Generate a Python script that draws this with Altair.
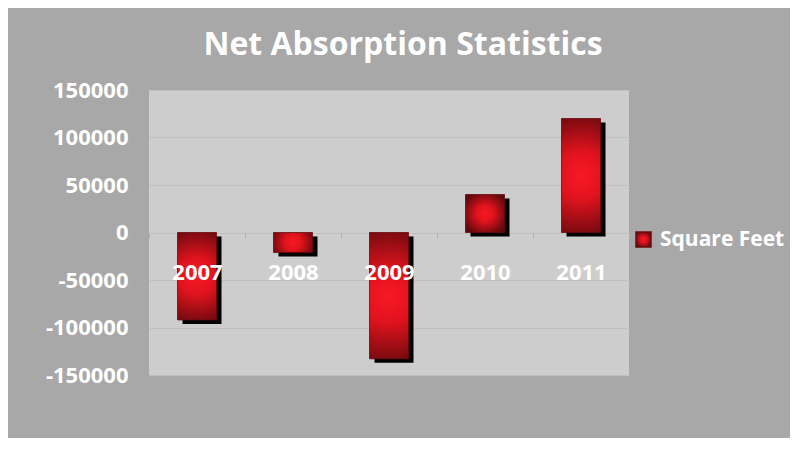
import altair as alt
import pandas as pd

years = ["2007", "2008", "2009", "2010", "2011"]
values = [-92000, -21000, -133000, 40000, 120000]
series = ["Square Feet"] * 5
y_ticks = [-150000, -100000, -50000, 0, 50000, 100000, 150000]

df = pd.DataFrame({"year": years, "value": values, "series": series})

FONT = "Open Sans"
bar_grad = {
    "gradient": "radial",
    "x1": 0.5, "y1": 0.5, "r1": 0.0,
    "x2": 0.5, "y2": 0.5, "r2": 0.6,
    "stops": [
        {"offset": 0.0, "color": "#f81824"},
        {"offset": 0.35, "color": "#e0131d"},
        {"offset": 1.0, "color": "#5c080c"},
    ],
}

x_enc = alt.X(
    "year:N",
    sort=years,
    scale=alt.Scale(paddingInner=0, paddingOuter=0),
    axis=alt.Axis(
        title=None, orient="bottom", offset=-142, domain=False,
        ticks=True, tickBand="extent", tickSize=5, tickColor="#b3b3b3",
        labelAngle=0, labelColor="white", labelFont=FONT, labelFontSize=22,
        labelFontWeight="bold", labelPadding=24, zindex=1,
    ),
)
y_enc = alt.Y(
    "value:Q",
    scale=alt.Scale(domain=[-150000, 150000], nice=False),
    axis=alt.Axis(
        title=None, values=y_ticks, labelExpr="'' + datum.value",
        domain=False, ticks=False,
        labelColor="white", labelFont=FONT, labelFontSize=22,
        labelFontWeight="bold", labelPadding=21,
        grid=True, gridColor="#c0c0c0", gridWidth=1,
    ),
)

shadow = alt.Chart(df).mark_bar(
    size=39, color="black", xOffset=5, yOffset=4
).encode(x=x_enc, y=y_enc)

bars = alt.Chart(df).mark_bar(
    size=39, fill=bar_grad, strokeWidth=0.8
).encode(
    x=x_enc,
    y=y_enc,
    stroke=alt.Stroke(
        "series:N",
        scale=alt.Scale(range=["#6a0a0f"]),
        legend=alt.Legend(
            title=None, orient="none", legendX=484, legendY=139,
            symbolType="square", symbolSize=225, symbolFillColor="#e0121c",
            symbolStrokeColor="#7a0d12", symbolStrokeWidth=1.5,
            labelColor="white", labelFont=FONT, labelFontSize=21,
            labelFontWeight="bold", labelOffset=6, padding=0,
        ),
    ),
)

chart = alt.layer(shadow, bars).properties(
    width=480,
    height=285,
    padding={"left": 141, "top": 82, "right": 161, "bottom": 63},
    autosize=alt.AutoSizeParams(type="none"),
    background="#a8a8a8",
    title=alt.TitleParams(
        "Net Absorption Statistics", color="white", font=FONT,
        fontSize=32, fontWeight="bold", anchor="middle", dx=14, offset=17,
    ),
).configure_view(fill="#cdcdcd", stroke=None)

chart.save("out.html", embed_options={"renderer": "svg", "actions": False})
